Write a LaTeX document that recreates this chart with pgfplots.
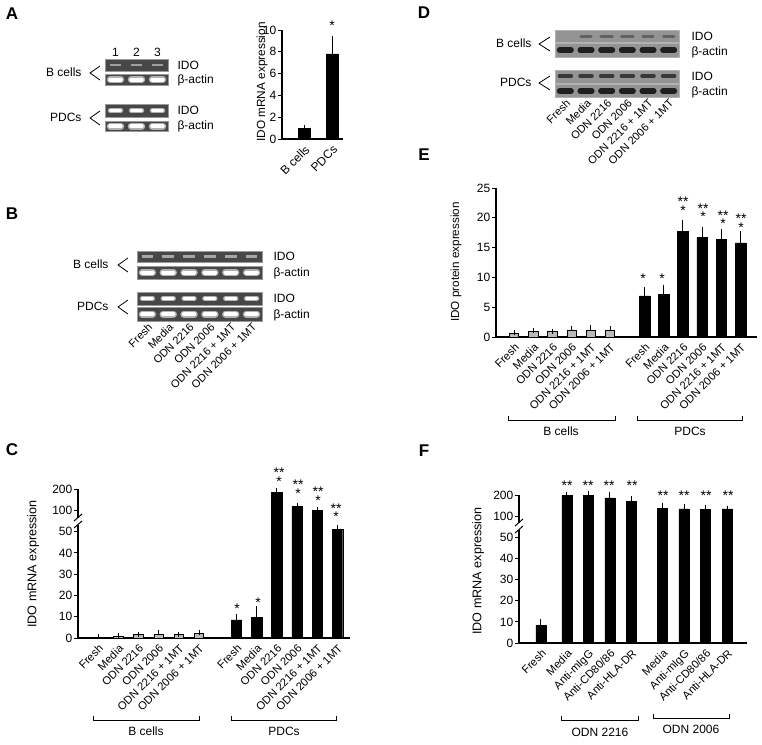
\documentclass[border=0pt]{standalone}
\usepackage{fontspec}
\setmainfont{Liberation Sans}
\usepackage{pgfplots}
\usepackage{pgfplotstable}
\pgfplotsset{compat=1.18}

% ---------- data ----------
\pgfplotstableread{
x y e
0 1.0 0
1 7.8 1.4
}\Adata
\pgfplotstableread{
x y e
0 0.4 0.1
1 1.0 0.2
2 1.5 0.2
3 1.5 1.2
4 1.5 0.2
5 2.0 0.4
}\Cb
\pgfplotstableread{
x y e
6.85 8.5 1.5
7.85 9.8 3.6
8.85 185 8
9.85 118 3
10.85 100 2
11.85 55 3
}\Cp
\pgfplotstableread{
x y e
0 0.6 0.1
1 1.0 0.15
2 0.9 0.1
3 1.2 0.15
4 1.2 0.35
5 1.2 0.15
}\Eb
\pgfplotstableread{
x y e
6.8 6.9 1.0
7.8 7.2 1.1
8.8 17.7 1.5
9.8 16.7 1.3
10.8 16.4 1.3
11.8 15.8 1.4
}\Ep
\pgfplotstableread{
x y e
0 8.5 1.5
1.2 199 2
2.2 198 6
3.2 187 14
4.2 171 8
5.65 138 12
6.65 135 8
7.65 132 8
8.65 135 1
}\Fdata

% broken axis: 0-50 linear, then 100 and 200 one step each
\pgfmathdeclarefunction{brkf}{1}{\pgfmathparse{(#1<=50)*(#1/10)+(#1>50)*(#1<=100)*(5+(#1-50)/50)+(#1>100)*(6+(#1-100)/100)}}

\pgfplotsset{
  barax/.style={
    scale only axis, clip=false,
    axis lines*=left,
    axis line style={line width=1.2pt, black},
    tick align=outside, major tick length=4pt,
    ytick style={line width=1pt, black},
    xtick style={draw=none},
    /pgf/number format/assume math mode=true,
    yticklabel style={font=\fontsize{12}{12}\selectfont, inner sep=1.5pt},
    xticklabel style={font=\fontsize{11.2}{11}\selectfont, rotate=45, anchor=north east, inner sep=1pt},
  },
  blackbar/.style={ybar, bar shift=0pt, bar width=10.5pt, fill=black, draw=black,
    error bars/y dir=plus, error bars/y explicit,
    error bars/error bar style={line width=0.9pt, black},
    error bars/error mark options={line width=0.9pt, black, mark size=3pt}},
  graybar/.style={ybar, bar shift=0pt, bar width=9.5pt, fill=gray!55, draw=black, line width=0.7pt,
    error bars/y dir=plus, error bars/y explicit,
    error bars/error bar style={line width=0.7pt, black},
    error bars/error mark options={line width=0.7pt, black, mark size=2.5pt}},
  brk/.style={y coord trafo/.code={\pgfmathparse{brkf(##1)}}},
  gel/.style={scale only axis, clip=false, y dir=reverse,
    axis line style={draw=none}, tick style={draw=none}, ytick=\empty},
  gelrot/.style={xticklabel style={font=\fontsize{11}{11}\selectfont, rotate=45, anchor=north east, inner sep=1pt}},
}
\newcommand{\lbl}{\fontsize{12}{13}\selectfont}
\newcommand{\st}{\fontsize{14}{14}\selectfont}

\begin{document}
\begin{tikzpicture}
\useasboundingbox (0,0) rectangle (762pt,-744pt);

% ---------- panel letters ----------
\foreach \L/\X/\Y in {A/12/14, B/12/214, C/12/450, D/424/13, E/424/155, F/424/451}
  \node[font=\bfseries\fontsize{17}{17}\selectfont] at (\X pt,-\Y pt) {\L};

% ================= Panel A gel =================
\begin{axis}[gel, at={(105pt,-59pt)}, anchor=north west, width=63pt, height=72pt,
  xmin=0.5, xmax=3.5, ymin=59, ymax=131, xtick={1,2,3}, xticklabels={1,2,3},
  xticklabel pos=upper, xticklabel style={anchor=south, font=\lbl, inner sep=2pt}]
\addplot[fill=black!72, draw=black!40, line width=0.6pt] coordinates {(0.5,59) (3.5,59) (3.5,71) (0.5,71) (0.5,59)};
\addplot[fill=black!72, draw=black!40, line width=0.6pt] coordinates {(0.5,74) (3.5,74) (3.5,85) (0.5,85) (0.5,74)};
\addplot[fill=black!72, draw=black!40, line width=0.6pt] coordinates {(0.5,104) (3.5,104) (3.5,117) (0.5,117) (0.5,104)};
\addplot[fill=black!72, draw=black!40, line width=0.6pt] coordinates {(0.5,121) (3.5,121) (3.5,131) (0.5,131) (0.5,121)};
\addplot[draw=gray!75, line width=2.5pt, unbounded coords=jump] coordinates {(0.72,65) (1.28,65) (nan,nan) (1.72,65) (2.28,65) (nan,nan) (2.72,65) (3.28,65)};
\addplot[draw=gray!60, line width=7pt, line cap=round, unbounded coords=jump] coordinates {(0.75,79.5) (1.25,79.5) (nan,nan) (1.75,79.5) (2.25,79.5) (nan,nan) (2.75,79.5) (3.25,79.5)};
\addplot[draw=white, line width=4pt, line cap=round, unbounded coords=jump] coordinates {(0.75,79.5) (1.25,79.5) (nan,nan) (1.75,79.5) (2.25,79.5) (nan,nan) (2.75,79.5) (3.25,79.5)};
\addplot[draw=gray!60, line width=5pt, line cap=round, unbounded coords=jump] coordinates {(0.75,110.5) (1.25,110.5) (nan,nan) (1.75,110.5) (2.25,110.5) (nan,nan) (2.75,110.5) (3.25,110.5)};
\addplot[draw=white, line width=2.5pt, line cap=round, unbounded coords=jump] coordinates {(0.75,110.5) (1.25,110.5) (nan,nan) (1.75,110.5) (2.25,110.5) (nan,nan) (2.75,110.5) (3.25,110.5)};
\addplot[draw=gray!60, line width=7pt, line cap=round, unbounded coords=jump] coordinates {(0.75,126) (1.25,126) (nan,nan) (1.75,126) (2.25,126) (nan,nan) (2.75,126) (3.25,126)};
\addplot[draw=white, line width=4pt, line cap=round, unbounded coords=jump] coordinates {(0.75,126) (1.25,126) (nan,nan) (1.75,126) (2.25,126) (nan,nan) (2.75,126) (3.25,126)};
\end{axis}
\node[font=\lbl, anchor=west] at (174pt,-65pt) {IDO};
\node[font=\lbl, anchor=west] at (174pt,-80pt) {β-actin};
\node[font=\lbl, anchor=west] at (174pt,-110pt) {IDO};
\node[font=\lbl, anchor=west] at (174pt,-126pt) {β-actin};
\node[font=\lbl, anchor=east] at (85pt,-72pt) {B cells};
\node[font=\lbl, anchor=east] at (85pt,-117pt) {PDCs};
\draw[line width=0.8pt] (100pt,-66pt) -- (90pt,-73pt) -- (100pt,-80pt);
\draw[line width=0.8pt] (100pt,-111pt) -- (90pt,-118pt) -- (100pt,-125pt);

% ================= Panel A bars =================
\begin{axis}[barax, at={(282pt,-139pt)}, anchor=south west, width=61pt, height=109pt,
  xmin=-0.79, xmax=1.39, ymin=0, ymax=10, ytick={0,2,4,6,8,10},
  xtick={0,1}, xticklabels={B cells,PDCs}, xticklabel style={font=\fontsize{12}{12}\selectfont}]
\addplot[blackbar, bar width=12pt] table[x=x,y=y,y error=e]{\Adata};
\end{axis}
\node[font=\fontsize{11.8}{13}\selectfont, rotate=90] at (262pt,-82pt) {IDO mRNA expression};
\node[font=\st] at (332pt,-26pt) {*};

% ================= Panel B gel =================
\begin{axis}[gel, gelrot, at={(137pt,-251pt)}, anchor=north west, width=125pt, height=70pt,
  xmin=0.5, xmax=6.5, ymin=251, ymax=321, xtick={1,...,6},
  xticklabels={Fresh,Media,ODN 2216,ODN 2006,ODN 2216 + 1MT,ODN 2006 + 1MT}]
\addplot[fill=black!72, draw=black!40, line width=0.6pt] coordinates {(0.5,251) (6.5,251) (6.5,262) (0.5,262) (0.5,251)};
\addplot[fill=black!72, draw=black!40, line width=0.6pt] coordinates {(0.5,266) (6.5,266) (6.5,279) (0.5,279) (0.5,266)};
\addplot[fill=black!72, draw=black!40, line width=0.6pt] coordinates {(0.5,292) (6.5,292) (6.5,305) (0.5,305) (0.5,292)};
\addplot[fill=black!72, draw=black!40, line width=0.6pt] coordinates {(0.5,307) (6.5,307) (6.5,321) (0.5,321) (0.5,307)};
\addplot[draw=gray!70, line width=2.5pt, unbounded coords=jump] coordinates {(0.72,256.5) (1.28,256.5) (nan,nan) (1.72,256.5) (2.28,256.5) (nan,nan) (2.72,256.5) (3.28,256.5) (nan,nan) (3.72,256.5) (4.28,256.5) (nan,nan) (4.72,256.5) (5.28,256.5) (nan,nan) (5.72,256.5) (6.28,256.5)};
\addplot[draw=gray!60, line width=7pt, line cap=round, unbounded coords=jump] coordinates {(0.75,272.5) (1.25,272.5) (nan,nan) (1.75,272.5) (2.25,272.5) (nan,nan) (2.75,272.5) (3.25,272.5) (nan,nan) (3.75,272.5) (4.25,272.5) (nan,nan) (4.75,272.5) (5.25,272.5) (nan,nan) (5.75,272.5) (6.25,272.5)};
\addplot[draw=white, line width=4pt, line cap=round, unbounded coords=jump] coordinates {(0.75,272.5) (1.25,272.5) (nan,nan) (1.75,272.5) (2.25,272.5) (nan,nan) (2.75,272.5) (3.25,272.5) (nan,nan) (3.75,272.5) (4.25,272.5) (nan,nan) (4.75,272.5) (5.25,272.5) (nan,nan) (5.75,272.5) (6.25,272.5)};
\addplot[draw=gray!60, line width=5pt, line cap=round, unbounded coords=jump] coordinates {(0.75,298.5) (1.25,298.5) (nan,nan) (1.75,298.5) (2.25,298.5) (nan,nan) (2.75,298.5) (3.25,298.5) (nan,nan) (3.75,298.5) (4.25,298.5) (nan,nan) (4.75,298.5) (5.25,298.5) (nan,nan) (5.75,298.5) (6.25,298.5)};
\addplot[draw=white, line width=2.5pt, line cap=round, unbounded coords=jump] coordinates {(0.75,298.5) (1.25,298.5) (nan,nan) (1.75,298.5) (2.25,298.5) (nan,nan) (2.75,298.5) (3.25,298.5) (nan,nan) (3.75,298.5) (4.25,298.5) (nan,nan) (4.75,298.5) (5.25,298.5) (nan,nan) (5.75,298.5) (6.25,298.5)};
\addplot[draw=gray!60, line width=7pt, line cap=round, unbounded coords=jump] coordinates {(0.75,314) (1.25,314) (nan,nan) (1.75,314) (2.25,314) (nan,nan) (2.75,314) (3.25,314) (nan,nan) (3.75,314) (4.25,314) (nan,nan) (4.75,314) (5.25,314) (nan,nan) (5.75,314) (6.25,314)};
\addplot[draw=white, line width=4pt, line cap=round, unbounded coords=jump] coordinates {(0.75,314) (1.25,314) (nan,nan) (1.75,314) (2.25,314) (nan,nan) (2.75,314) (3.25,314) (nan,nan) (3.75,314) (4.25,314) (nan,nan) (4.75,314) (5.25,314) (nan,nan) (5.75,314) (6.25,314)};
\end{axis}
\node[font=\lbl, anchor=west] at (270pt,-256pt) {IDO};
\node[font=\lbl, anchor=west] at (270pt,-273pt) {β-actin};
\node[font=\lbl, anchor=west] at (270pt,-298pt) {IDO};
\node[font=\lbl, anchor=west] at (270pt,-315pt) {β-actin};
\node[font=\lbl, anchor=east] at (112pt,-264pt) {B cells};
\node[font=\lbl, anchor=east] at (112pt,-306pt) {PDCs};
\draw[line width=0.8pt] (128pt,-258pt) -- (118pt,-265pt) -- (128pt,-272pt);
\draw[line width=0.8pt] (128pt,-300pt) -- (118pt,-307pt) -- (128pt,-314pt);

% ================= Panel C =================
\begin{axis}[barax, brk, at={(78pt,-638pt)}, anchor=south west, width=272pt, height=149pt,
  xmin=-0.99, xmax=12.47, ymin=0, ymax=200,
  ytick={0,10,20,30,40,50,100,200}, yticklabels={0,10,20,30,40,50,100,200},
  xtick={0,1,2,3,4,5,6.85,7.85,8.85,9.85,10.85,11.85},
  xticklabels={Fresh,Media,ODN 2216,ODN 2006,ODN 2216 + 1MT,ODN 2006 + 1MT,Fresh,Media,ODN 2216,ODN 2006,ODN 2216 + 1MT,ODN 2006 + 1MT}]
\addplot[graybar] table[x=x,y=y,y error expr={brkf(\thisrow{y}+\thisrow{e})-brkf(\thisrow{y})}]{\Cb};
\addplot[blackbar] table[x=x,y=y,y error expr={brkf(\thisrow{y}+\thisrow{e})-brkf(\thisrow{y})}]{\Cp};
\end{axis}
\fill[white] (74pt,-518pt) rectangle (82pt,-525pt);
\draw[line width=1pt] (74pt,-521pt) -- (82pt,-514pt);
\draw[line width=1pt] (74pt,-528pt) -- (82pt,-521pt);
\node[font=\fontsize{12.6}{13}\selectfont, rotate=90] at (33pt,-564pt) {IDO mRNA expression};
\foreach \X/\Y in {237/609, 258/603, 279/482, 298/494, 318/501, 336/517}
  \node[font=\st] at (\X pt,-\Y pt) {*};
\foreach \X/\Y in {279/473, 298/485, 318/492, 336/509}
  \node[font=\st] at (\X pt,-\Y pt) {**};
\draw[line width=1pt] (93pt,-716pt) -- (93pt,-720pt) -- (199pt,-720pt) -- (199pt,-716pt);
\draw[line width=1pt] (231pt,-716pt) -- (231pt,-720pt) -- (336pt,-720pt) -- (336pt,-716pt);
\node[font=\lbl] at (146pt,-731pt) {B cells};
\node[font=\lbl] at (284pt,-731pt) {PDCs};

% ================= Panel D gel (western) =================
\begin{axis}[gel, gelrot, at={(555pt,-30pt)}, anchor=north west, width=124pt, height=67pt,
  xmin=0.5, xmax=6.5, ymin=30, ymax=97, xtick={1,...,6},
  xticklabels={Fresh,Media,ODN 2216,ODN 2006,ODN 2216 + 1MT,ODN 2006 + 1MT}]
\addplot[fill=black!42, draw=black!30, line width=0.6pt] coordinates {(0.5,30) (6.5,30) (6.5,42) (0.5,42) (0.5,30)};
\addplot[fill=black!42, draw=black!30, line width=0.6pt] coordinates {(0.5,43.5) (6.5,43.5) (6.5,57) (0.5,57) (0.5,43.5)};
\addplot[fill=black!42, draw=black!30, line width=0.6pt] coordinates {(0.5,70) (6.5,70) (6.5,83) (0.5,83) (0.5,70)};
\addplot[fill=black!42, draw=black!30, line width=0.6pt] coordinates {(0.5,84.5) (6.5,84.5) (6.5,97) (0.5,97) (0.5,84.5)};
\addplot[draw=black!62, line width=3pt, line cap=round, unbounded coords=jump] coordinates {(1.75,36) (2.25,36) (nan,nan) (2.72,36) (3.28,36) (nan,nan) (3.72,36) (4.28,36) (nan,nan) (4.75,36) (5.25,36) (nan,nan) (5.75,36) (6.25,36)};
\addplot[draw=black!88, line width=5.5pt, line cap=round, unbounded coords=jump] coordinates {(0.72,50) (1.28,50) (nan,nan) (1.72,50) (2.28,50) (nan,nan) (2.72,50) (3.28,50) (nan,nan) (3.72,50) (4.28,50) (nan,nan) (4.72,50) (5.28,50) (nan,nan) (5.72,50) (6.28,50)};
\addplot[draw=black!78, line width=4pt, line cap=round, unbounded coords=jump] coordinates {(0.72,76) (1.28,76) (nan,nan) (1.72,76) (2.28,76) (nan,nan) (2.72,76) (3.28,76) (nan,nan) (3.72,76) (4.28,76) (nan,nan) (4.72,76) (5.28,76) (nan,nan) (5.72,76) (6.28,76)};
\addplot[draw=black!88, line width=5.5pt, line cap=round, unbounded coords=jump] coordinates {(0.72,91) (1.28,91) (nan,nan) (1.72,91) (2.28,91) (nan,nan) (2.72,91) (3.28,91) (nan,nan) (3.72,91) (4.28,91) (nan,nan) (4.72,91) (5.28,91) (nan,nan) (5.72,91) (6.28,91)};
\end{axis}
\node[font=\lbl, anchor=west] at (688pt,-36pt) {IDO};
\node[font=\lbl, anchor=west] at (688pt,-52pt) {β-actin};
\node[font=\lbl, anchor=west] at (688pt,-76pt) {IDO};
\node[font=\lbl, anchor=west] at (688pt,-92pt) {β-actin};
\node[font=\lbl, anchor=east] at (535pt,-43pt) {B cells};
\node[font=\lbl, anchor=east] at (535pt,-82pt) {PDCs};
\draw[line width=0.8pt] (550pt,-37pt) -- (539pt,-44pt) -- (550pt,-51pt);
\draw[line width=0.8pt] (550pt,-76pt) -- (539pt,-83pt) -- (550pt,-90pt);

% ================= Panel E =================
\begin{axis}[barax, at={(496pt,-337pt)}, anchor=south west, width=261pt, height=149pt,
  xmin=-0.94, xmax=12.66, ymin=0, ymax=25, ytick={0,5,10,15,20,25},
  xtick={0,1,2,3,4,5,6.8,7.8,8.8,9.8,10.8,11.8},
  xticklabels={Fresh,Media,ODN 2216,ODN 2006,ODN 2216 + 1MT,ODN 2006 + 1MT,Fresh,Media,ODN 2216,ODN 2006,ODN 2216 + 1MT,ODN 2006 + 1MT}]
\addplot[graybar] table[x=x,y=y,y error=e]{\Eb};
\addplot[blackbar] table[x=x,y=y,y error=e]{\Ep};
\end{axis}
\node[font=\fontsize{11.7}{13}\selectfont, rotate=90] at (456pt,-262pt) {IDO protein expression};
\foreach \X/\Y in {643/279, 662/279, 683/211, 703/217, 723/224, 741/228}
  \node[font=\st] at (\X pt,-\Y pt) {*};
\foreach \X/\Y in {683/202, 703/209, 723/216, 741/219}
  \node[font=\st] at (\X pt,-\Y pt) {**};
\draw[line width=1pt] (508pt,-416pt) -- (508pt,-420pt) -- (615pt,-420pt) -- (615pt,-416pt);
\draw[line width=1pt] (637pt,-416pt) -- (637pt,-420pt) -- (742pt,-420pt) -- (742pt,-416pt);
\node[font=\lbl] at (561pt,-431pt) {B cells};
\node[font=\lbl] at (690pt,-431pt) {PDCs};

% ================= Panel F =================
\begin{axis}[barax, brk, at={(519pt,-643pt)}, anchor=south west, width=228pt, height=148pt,
  xmin=-1.02, xmax=9.58, ymin=0, ymax=200,
  ytick={0,10,20,30,40,50,100,200}, yticklabels={0,10,20,30,40,50,100,200},
  xtick={0,1.2,2.2,3.2,4.2,5.65,6.65,7.65,8.65},
  xticklabels={Fresh,Media,Anti-mIgG,Anti-CD80/86,Anti-HLA-DR,Media,Anti-mIgG,Anti-CD80/86,Anti-HLA-DR}]
\addplot[blackbar, bar width=10pt] table[x=x,y=y,y error expr={brkf(\thisrow{y}+\thisrow{e})-brkf(\thisrow{y})}]{\Fdata};
\end{axis}
\fill[white] (515pt,-523pt) rectangle (523pt,-530pt);
\draw[line width=1pt] (515pt,-526pt) -- (523pt,-519pt);
\draw[line width=1pt] (515pt,-533pt) -- (523pt,-526pt);
\node[font=\fontsize{12.6}{13}\selectfont, rotate=90] at (478pt,-571pt) {IDO mRNA expression};
\foreach \X in {567, 588, 609, 632}
  \node[font=\st] at (\X pt,-486pt) {**};
\foreach \X in {663, 684, 706, 728}
  \node[font=\st] at (\X pt,-496pt) {**};
\draw[line width=1pt] (561pt,-716pt) -- (561pt,-720pt) -- (638pt,-720pt) -- (638pt,-716pt);
\draw[line width=1pt] (653pt,-714pt) -- (653pt,-718pt) -- (729pt,-718pt) -- (729pt,-714pt);
\node[font=\lbl] at (600pt,-732pt) {ODN 2216};
\node[font=\lbl] at (691pt,-729pt) {ODN 2006};

\end{tikzpicture}
\end{document}
